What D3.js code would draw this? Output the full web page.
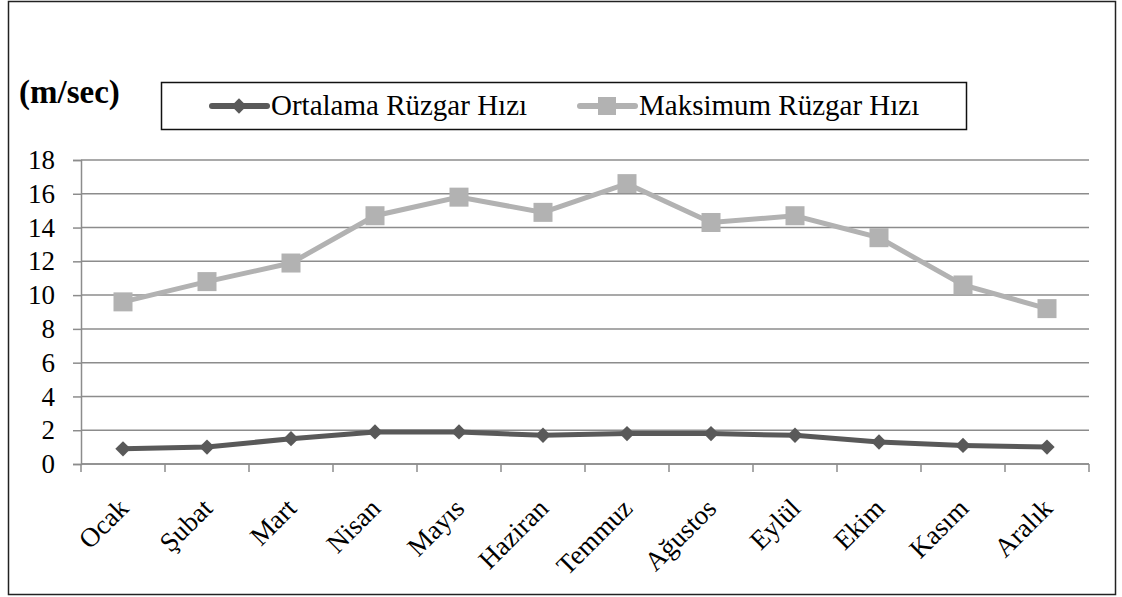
<!DOCTYPE html>
<html>
<head>
<meta charset="utf-8">
<script src="https://cdn.jsdelivr.net/npm/d3@7"></script>
</head>
<body style="margin:0">
<script>
// months, y ticks and the two series
var months = ['Ocak', 'Şubat', 'Mart', 'Nisan', 'Mayıs', 'Haziran', 'Temmuz', 'Ağustos', 'Eylül', 'Ekim', 'Kasım', 'Aralık'];
var ortalama = [0.9, 1.0, 1.5, 1.9, 1.9, 1.7, 1.8, 1.8, 1.7, 1.3, 1.1, 1.0];
var maksimum = [9.6, 10.8, 11.9, 14.7, 15.8, 14.9, 16.6, 14.3, 14.7, 13.4, 10.6, 9.2];
var yTicks = [0, 2, 4, 6, 8, 10, 12, 14, 16, 18];
var seriesNames = ['Ortalama Rüzgar Hızı', 'Maksimum Rüzgar Hızı'];

var width = 1122, height = 597;
var margin = { top: 160, right: 33, bottom: 133, left: 81 };
var FONT = '"Liberation Serif", "Times New Roman", serif';

// inline, important font so nothing else can override it
function serifText(sel, size, weight) {
  sel.attr('style', 'font-family: ' + FONT + ' !important; font-size: ' + size + 'px !important; font-weight: ' + (weight || 'normal') + ' !important;')
     .attr('font-family', FONT)
     .attr('font-size', size);
  return sel;
}

var svg = d3.select('body').append('svg')
    .attr('width', width)
    .attr('height', height)
    .attr('style', 'display:block; font-family: ' + FONT + ' !important;');

// outer frame
svg.append('rect')
    .attr('x', 8.5).attr('y', 1.5)
    .attr('width', 1107).attr('height', 593)
    .attr('fill', 'none')
    .attr('stroke', '#222')
    .attr('stroke-width', 1.5);

var w = width - margin.left - margin.right,
    h = height - margin.top - margin.bottom;

var x = d3.scaleBand().domain(months).range([0, w]);
var y = d3.scaleLinear().domain([0, 18]).range([h, 0]);

var g = svg.append('g')
    .attr('transform', 'translate(' + margin.left + ',' + margin.top + ')');

// horizontal gridlines
g.selectAll('.grid')
  .data(yTicks)
  .enter().append('line')
    .attr('class', 'grid')
    .attr('x1', 0).attr('x2', w)
    .attr('y1', function(d) { return y(d); })
    .attr('y2', function(d) { return y(d); })
    .attr('stroke', '#8c8c8c')
    .attr('stroke-width', 1.5);

// y axis
var yAxis = g.append('g')
    .call(d3.axisLeft(y).tickValues(yTicks).tickSize(8).tickPadding(18));
yAxis.attr('font-family', FONT);
yAxis.select('.domain').attr('stroke', '#8c8c8c').attr('stroke-width', 1.5);
yAxis.selectAll('.tick line').attr('stroke', '#8c8c8c').attr('stroke-width', 1.5);
serifText(yAxis.selectAll('.tick text'), 27).attr('fill', '#000');

// x axis with ticks at band edges
var xAxis = g.append('g')
    .attr('transform', 'translate(0,' + h + ')');
xAxis.append('line')
    .attr('x1', 0).attr('x2', w)
    .attr('stroke', '#8c8c8c').attr('stroke-width', 1.5);
var edges = months.map(function(m) { return x(m); }).concat([w]);
xAxis.selectAll('.xtick')
  .data(edges)
  .enter().append('line')
    .attr('class', 'xtick')
    .attr('x1', function(d) { return d; })
    .attr('x2', function(d) { return d; })
    .attr('y1', 0).attr('y2', 8)
    .attr('stroke', '#8c8c8c').attr('stroke-width', 1.5);
var xLabels = xAxis.selectAll('.xlabel')
  .data(months)
  .enter().append('text')
    .attr('class', 'xlabel')
    .attr('text-anchor', 'end')
    .attr('fill', '#000')
    .attr('transform', function(d) {
      return 'translate(' + (x(d) + x.bandwidth() / 2 + 7) + ',' + 46 + ') rotate(-45)';
    })
    .text(function(d) { return d; });
serifText(xLabels, 27);

var line = d3.line()
    .x(function(d, i) { return x(months[i]) + x.bandwidth() / 2; })
    .y(function(d) { return y(d); });

// maximum series
g.append('path')
    .datum(maksimum)
    .attr('d', line)
    .attr('fill', 'none')
    .attr('stroke', '#b2b2b2')
    .attr('stroke-width', 5);
g.selectAll('.sq')
  .data(maksimum)
  .enter().append('rect')
    .attr('class', 'sq')
    .attr('x', function(d, i) { return x(months[i]) + x.bandwidth() / 2 - 9.5; })
    .attr('y', function(d) { return y(d) - 9.5; })
    .attr('width', 19).attr('height', 19)
    .attr('fill', '#b2b2b2');

// average series
g.append('path')
    .datum(ortalama)
    .attr('d', line)
    .attr('fill', 'none')
    .attr('stroke', '#595959')
    .attr('stroke-width', 5);
var diamond = d3.symbol().type(d3.symbolDiamond2).size(150);
g.selectAll('.dm')
  .data(ortalama)
  .enter().append('path')
    .attr('class', 'dm')
    .attr('d', diamond)
    .attr('transform', function(d, i) {
      return 'translate(' + (x(months[i]) + x.bandwidth() / 2) + ',' + y(d) + ')';
    })
    .attr('fill', '#595959');

// unit label
serifText(svg.append('text')
    .attr('x', 19).attr('y', 103)
    .attr('fill', '#000')
    .text('(m/sec)'), 33, 'bold');

// legend
var legend = svg.append('g');
legend.append('rect')
    .attr('x', 161.5).attr('y', 82.5)
    .attr('width', 805).attr('height', 47)
    .attr('fill', '#fff')
    .attr('stroke', '#111')
    .attr('stroke-width', 1.5);

var legendItems = [
  { name: seriesNames[0], color: '#595959', x0: 212, shape: 'diamond' },
  { name: seriesNames[1], color: '#b2b2b2', x0: 580, shape: 'square' }
];
legendItems.forEach(function(it) {
  legend.append('line')
      .attr('x1', it.x0).attr('x2', it.x0 + 55)
      .attr('y1', 106).attr('y2', 106)
      .attr('stroke', it.color)
      .attr('stroke-width', 6)
      .attr('stroke-linecap', 'round');
  if (it.shape === 'diamond') {
    legend.append('path')
        .attr('d', diamond)
        .attr('transform', 'translate(' + (it.x0 + 27) + ',106)')
        .attr('fill', it.color);
  } else {
    legend.append('rect')
        .attr('x', it.x0 + 27 - 9).attr('y', 97)
        .attr('width', 18).attr('height', 18)
        .attr('fill', it.color);
  }
  serifText(legend.append('text')
      .attr('x', it.x0 + 59).attr('y', 115)
      .attr('fill', '#000')
      .text(it.name), 29);
});
</script>
</body>
</html>
